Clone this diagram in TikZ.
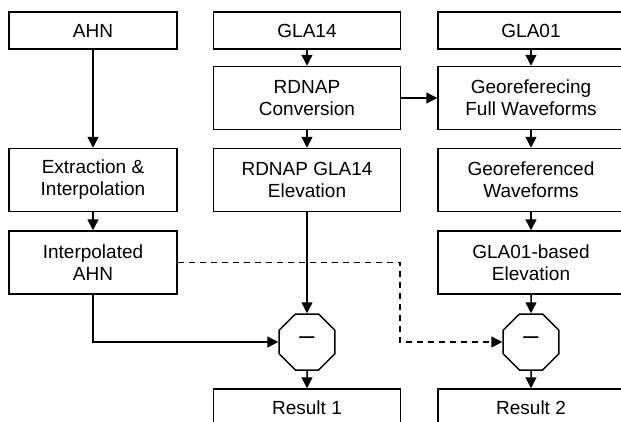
\documentclass[tikz,border=0pt]{standalone}
\usepackage{fontspec}
\setmainfont{Liberation Sans}
\usetikzlibrary{arrows.meta,shapes.geometric}
\begin{document}
\begin{tikzpicture}[x=1pt,y=-1pt,
  every node/.style={font=\fontsize{19}{22}\selectfont, inner sep=0pt, align=center},
  procbox/.style={draw, line width=1.5pt, rectangle},
  colA/.style={procbox, minimum width=168pt},
  colB/.style={procbox, minimum width=187pt},
  colC/.style={procbox, minimum width=186pt},
  shortbox/.style={minimum height=37pt},
  tallbox/.style={minimum height=63pt},
  diffop/.style={draw, line width=1.5pt, regular polygon, regular polygon sides=8,
    minimum size=60.6pt, font=\fontsize{27}{27}\selectfont},
  flow/.style={line width=1.5pt, -{Triangle[length=11pt,width=11pt]}},
  dflow/.style={flow, dash pattern=on 6pt off 5pt}]
\useasboundingbox (0,0) rectangle (621,421);
\clip (0,0) rectangle (621,421);

% first column: AHN chain
\node[colA, shortbox] (ahn) at (93,30.5) {AHN};
\node[colA, tallbox] (extr) at (93,180) {Extraction \&\\Interpolation};
\node[colA, tallbox] (iahn) at (93,262.5) {Interpolated\\AHN};

% second column: GLA14 chain
\node[colB, shortbox] (gla14) at (307,30.5) {GLA14};
\node[colB, tallbox] (conv) at (307,98) {RDNAP\\Conversion};
\node[colB, tallbox] (elev14) at (307,180) {RDNAP GLA14\\Elevation};
\node[diffop] (sub1) at (307,342) {\raisebox{2pt}{–}};
\node[colB, shortbox] (res1) at (307,407.5) {Result 1};

% third column: GLA01 chain
\node[colC, shortbox] (gla01) at (531,30.5) {GLA01};
\node[colC, tallbox] (geo) at (531,98) {Georeferecing\\Full Waveforms};
\node[colC, tallbox] (wave) at (531,180) {Georeferenced\\Waveforms};
\node[colC, tallbox] (elev01) at (531,262.5) {GLA01-based\\Elevation};
\node[diffop] (sub2) at (531,342) {\raisebox{2pt}{–}};
\node[colC, shortbox] (res2) at (531,407.5) {Result 2};

\coordinate (bend) at (400,262.5);

% connectors
\draw[flow] (ahn) -- (extr);
\draw[flow] (extr) -- (iahn);
\draw[flow] (iahn.south) |- (sub1.west);
\draw[dflow] (iahn.east) -- (bend) |- (sub2.west);

\draw[flow] (gla14) -- (conv);
\draw[flow] (conv) -- (elev14);
\draw[flow] (elev14) -- (sub1);
\draw[flow] (sub1) -- (res1);
\draw[flow] (conv) -- (geo);

\draw[flow] (gla01) -- (geo);
\draw[flow] (geo) -- (wave);
\draw[flow] (wave) -- (elev01);
\draw[flow] (elev01) -- (sub2);
\draw[flow] (sub2) -- (res2);
\end{tikzpicture}
\end{document}
